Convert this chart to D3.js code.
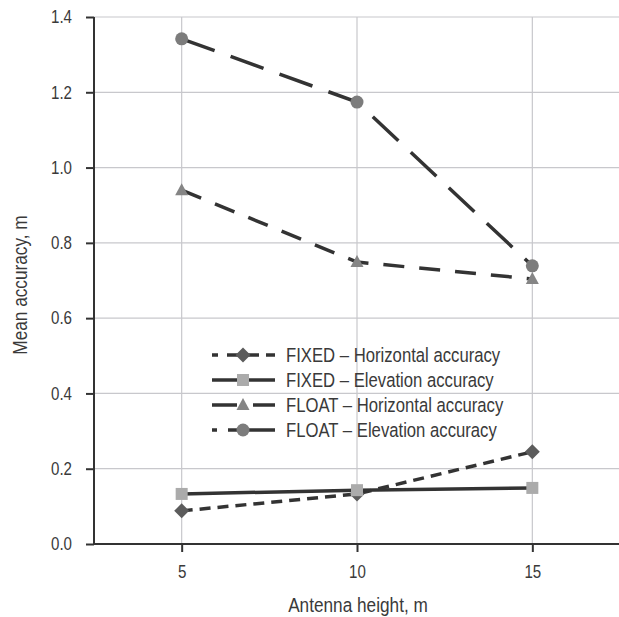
<!DOCTYPE html>
<html><head><meta charset="utf-8">
<script src="https://cdn.jsdelivr.net/npm/d3@7"></script>
<style>
html,body{margin:0;padding:0;background:#fff;}
svg{display:block;}
text{font-family:"Liberation Sans",Arial,sans-serif;fill:#3a3a3a;}
</style></head>
<body>
<svg id="chart" width="619" height="617"></svg>
<script>
const heights = [5, 10, 15];
const fixedHorizontal = [0.088, 0.133, 0.245];
const fixedElevation = [0.133, 0.143, 0.149];
const floatHorizontal = [0.940, 0.749, 0.704];
const floatElevation = [1.342, 1.174, 0.739];
const seriesNames = ["FIXED – Horizontal accuracy","FIXED – Elevation accuracy","FLOAT – Horizontal accuracy","FLOAT – Elevation accuracy"];
const yTicks = [0, 0.2, 0.4, 0.6, 0.8, 1.0, 1.2, 1.4];
const xTicks = [5, 10, 15];

const SX = 0.84; // condensed look

const series = [
  {name: seriesNames[0], values: fixedHorizontal, dash: "11,7", marker: "diamond", fill: "#5c5c5c", legendDash: "6,9,32,7,12"},
  {name: seriesNames[1], values: fixedElevation, dash: null, marker: "square", fill: "#ababab", legendDash: null},
  {name: seriesNames[2], values: floatHorizontal, dash: "21,15", marker: "triangle", fill: "#858585", legendDash: "25,16,40"},
  {name: seriesNames[3], values: floatElevation, dash: "35,17", marker: "circle", fill: "#7c7c7c", legendDash: "5,11,60"}
];

const svg = d3.select("#chart");
const x = d3.scaleLinear().domain([2.5, 17.5]).range([94, 620]);
const y = d3.scaleLinear().domain([0, 1.4]).range([544, 17]);

// gridlines
svg.append("g").selectAll("line").data(yTicks.slice(1)).join("line")
  .attr("x1", x(2.5)).attr("x2", 619).attr("y1", d=>y(d)).attr("y2", d=>y(d))
  .attr("stroke", "#c8c8cc").attr("stroke-width", 1.2);
svg.append("g").selectAll("line").data(xTicks).join("line")
  .attr("x1", d=>x(d)).attr("x2", d=>x(d)).attr("y1", y(0)).attr("y2", y(1.4))
  .attr("stroke", "#c8c8cc").attr("stroke-width", 1.2);

// axes
const yAxis = svg.append("g").attr("transform", `translate(${x(2.5)},0)`)
  .call(d3.axisLeft(y).tickValues(yTicks).tickFormat(d3.format(".1f")).tickSize(8).tickPadding(14));
const xAxis = svg.append("g").attr("transform", `translate(0,${y(0)})`)
  .call(d3.axisBottom(x).tickValues(xTicks).tickFormat(d3.format("d")).tickSize(8).tickPadding(13));
[yAxis, xAxis].forEach(a => {
  a.select(".domain").attr("stroke", "#333").attr("stroke-width", 2);
  a.selectAll(".tick line").attr("stroke", "#333").attr("stroke-width", 2);
  a.selectAll(".tick text").attr("font-size", 18).attr("fill", "#3a3a3a")
   .style("font-family", '"Liberation Sans",Arial,sans-serif')
   .each(function(){
     const t = d3.select(this);
     const xx = +t.attr("x") || 0, yy = +t.attr("y") || 0;
     t.attr("x", 0).attr("y", 0).attr("transform", `translate(${xx},${yy}) scale(${SX},1)`);
   });
});
xAxis.select(".domain").attr("d", `M${x(2.5)},0H619`);
yAxis.select(".domain").attr("d", `M0,${y(0)+1}V${y(1.4)}`);

// axis titles
svg.append("text").attr("transform", `translate(358,612) scale(${SX},1)`).attr("text-anchor", "middle")
  .attr("font-size", 20.5).text("Antenna height, m");
svg.append("text").attr("transform", `translate(26.5,285) rotate(-90) scale(${SX},1)`).attr("text-anchor", "middle")
  .attr("font-size", 20.5).text("Mean accuracy, m");

function drawMarker(g, type, cx, cy, fill) {
  if (type === "diamond") {
    g.append("path").attr("d", `M${cx},${cy-7.5}L${cx+7.5},${cy}L${cx},${cy+7.5}L${cx-7.5},${cy}Z`).attr("fill", fill);
  } else if (type === "square") {
    g.append("rect").attr("x", cx-6).attr("y", cy-6).attr("width", 12).attr("height", 12).attr("fill", fill);
  } else if (type === "triangle") {
    g.append("path").attr("d", `M${cx},${cy-7}L${cx+6.5},${cy+5}L${cx-6.5},${cy+5}Z`).attr("fill", fill);
  } else {
    g.append("circle").attr("cx", cx).attr("cy", cy).attr("r", 6.5).attr("fill", fill);
  }
}

const line = d3.line().x((d,i)=>x(heights[i])).y(d=>y(d));
const order = [3, 2, 0, 1];
order.forEach(si => {
  const s = series[si];
  svg.append("path").datum(s.values).attr("d", line).attr("fill", "none")
    .attr("stroke", "#333").attr("stroke-width", 3.5)
    .attr("stroke-dasharray", s.dash);
});
order.forEach(si => {
  const s = series[si];
  const g = svg.append("g");
  s.values.forEach((v,i) => drawMarker(g, s.marker, x(heights[i]), y(v), s.fill));
});

// legend
const legendY = [355, 380, 405, 430];
series.forEach((s, i) => {
  const g = svg.append("g");
  g.append("line").attr("x1", 212).attr("x2", 275).attr("y1", legendY[i]).attr("y2", legendY[i])
    .attr("stroke", "#333").attr("stroke-width", 3.5).attr("stroke-dasharray", s.legendDash);
  drawMarker(g, s.marker, 243, legendY[i], s.fill);
  g.append("text").attr("transform", `translate(286,${legendY[i] + 7}) scale(0.856,1)`)
    .attr("font-size", 19.5).text(s.name);
});
</script>
</body></html>
